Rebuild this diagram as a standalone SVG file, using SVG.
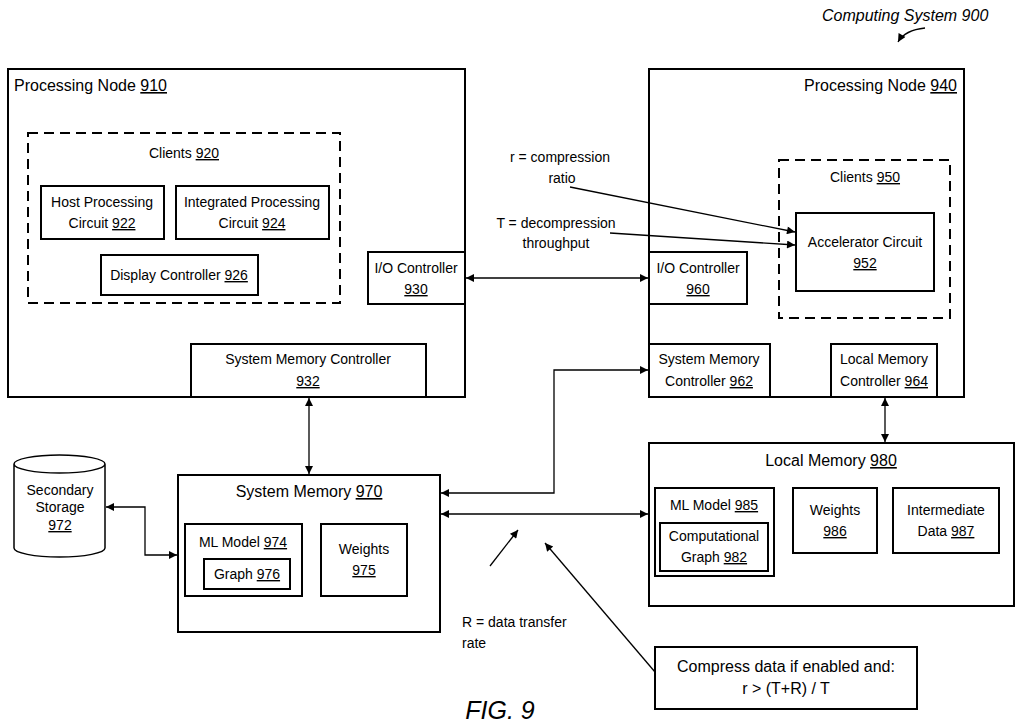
<svg xmlns="http://www.w3.org/2000/svg" width="1024" height="726" viewBox="0 0 1024 726">
<style>
rect{fill:#fff;stroke:#000;stroke-width:2}
.d{stroke-dasharray:10,6}
text{font-family:"Liberation Sans",Arial,sans-serif;font-size:14px;fill:#000}
.c{text-anchor:middle}
.t{font-size:16px}
.f{font-size:25px;font-style:italic}
.u{text-decoration:underline}
.cn line,.cn polyline,.cn path{fill:none;stroke:#000;stroke-width:1.3}
</style>
<defs>
<marker id="a" viewBox="0 0 10 10" refX="10" refY="5" markerWidth="10" markerHeight="8" orient="auto-start-reverse" markerUnits="userSpaceOnUse"><path d="M0,0L10,5L0,10z" fill="#000"/></marker>
</defs>
<rect width="1024" height="726" style="stroke:none"/>
<text x="822" y="21" class="t" font-style="italic">Computing System 900</text>
<g id="pn910"><rect x="8" y="69" width="457" height="328"/><text x="14" y="91" class="t">Processing Node <tspan class="u">910</tspan></text></g>
<g id="c920"><rect x="28" y="133" width="312" height="170" class="d"/><text x="184" y="158" class="c">Clients <tspan class="u">920</tspan></text></g>
<g id="n922"><rect x="41" y="186" width="123" height="53"/><text x="102" y="207" class="c">Host Processing</text><text x="102" y="228" class="c">Circuit <tspan class="u">922</tspan></text></g>
<g id="n924"><rect x="176" y="186" width="153" height="53"/><text x="252" y="207" class="c">Integrated Processing</text><text x="252" y="228" class="c">Circuit <tspan class="u">924</tspan></text></g>
<g id="n926"><rect x="101" y="255" width="157" height="40"/><text x="179" y="280" class="c">Display Controller <tspan class="u">926</tspan></text></g>
<g id="n930"><rect x="368" y="252" width="97" height="52"/><text x="416" y="273" class="c">I/O Controller</text><text x="416" y="294" class="c u">930</text></g>
<g id="n932"><rect x="191" y="344" width="235" height="53"/><text x="308" y="364" class="c">System Memory Controller</text><text x="308" y="386" class="c u">932</text></g>
<g id="pn940"><rect x="649" y="69" width="315" height="328"/><text x="957" y="91" class="t" text-anchor="end">Processing Node <tspan class="u">940</tspan></text></g>
<g id="c950"><rect x="779" y="160" width="171" height="158" class="d"/><text x="865" y="182" class="c">Clients <tspan class="u">950</tspan></text></g>
<g id="n952"><rect x="796" y="213" width="138" height="78"/><text x="865" y="247" class="c">Accelerator Circuit</text><text x="865" y="268" class="c u">952</text></g>
<g id="n960"><rect x="649" y="252" width="98" height="52"/><text x="698" y="273" class="c">I/O Controller</text><text x="698" y="294" class="c u">960</text></g>
<g id="n962"><rect x="649" y="344" width="121" height="53"/><text x="709" y="364" class="c">System Memory</text><text x="709" y="386" class="c">Controller <tspan class="u">962</tspan></text></g>
<g id="n964"><rect x="831" y="344" width="106" height="53"/><text x="884" y="364" class="c">Local Memory</text><text x="884" y="386" class="c">Controller <tspan class="u">964</tspan></text></g>
<g id="n980"><rect x="649" y="443" width="365" height="163"/><text x="831" y="466" class="c t">Local Memory <tspan class="u">980</tspan></text></g>
<g id="n985"><rect x="655" y="488" width="119" height="88"/><text x="714" y="510" class="c">ML Model <tspan class="u">985</tspan></text></g>
<g id="n982"><rect x="660" y="523" width="108" height="48"/><text x="714" y="541" class="c">Computational</text><text x="714" y="562" class="c">Graph <tspan class="u">982</tspan></text></g>
<g id="n986"><rect x="793" y="488" width="84" height="65"/><text x="835" y="515" class="c">Weights</text><text x="835" y="536" class="c u">986</text></g>
<g id="n987"><rect x="893" y="488" width="106" height="65"/><text x="946" y="515" class="c">Intermediate</text><text x="946" y="536" class="c">Data <tspan class="u">987</tspan></text></g>
<g id="n970"><rect x="178" y="475" width="262" height="157"/><text x="309" y="497" class="c t">System Memory <tspan class="u">970</tspan></text></g>
<g id="n974"><rect x="185" y="524" width="117" height="72"/><text x="243" y="547" class="c">ML Model <tspan class="u">974</tspan></text></g>
<g id="n976"><rect x="204" y="559" width="86" height="30"/><text x="247" y="579" class="c">Graph <tspan class="u">976</tspan></text></g>
<g id="n975"><rect x="321" y="524" width="86" height="72"/><text x="364" y="554" class="c">Weights</text><text x="364" y="575" class="c u">975</text></g>
<g id="n972"><path d="M14,464 V548 A45.5,9 0 0 0 105,548 V464 A45.5,9 0 0 0 14,464 A45.5,9 0 0 0 105,464" fill="#fff" stroke="#000" stroke-width="1.5"/><text x="60" y="495" class="c">Secondary</text><text x="60" y="512" class="c">Storage</text><text x="60" y="530" class="c u">972</text></g>
<g id="cmp"><rect x="655" y="647" width="262" height="62"/><text x="786" y="672" class="c t">Compress data if enabled and:</text><text x="786" y="694" class="c t">r &gt; (T+R) / T</text></g>
<text x="500" y="719" class="c f">FIG. 9</text>
<text x="560" y="162" class="c">r = compression</text><text x="562" y="183" class="c">ratio</text>
<text x="556" y="228" class="c">T = decompression</text><text x="556" y="248" class="c">throughput</text>
<text x="462" y="627">R = data transfer</text><text x="462" y="648">rate</text>
<g class="cn">
<path d="M925,28 Q905,30 898,42" marker-end="url(#a)"/>
<line x1="466" y1="278" x2="648" y2="278" marker-start="url(#a)" marker-end="url(#a)"/>
<line x1="309" y1="398" x2="309" y2="474" marker-start="url(#a)" marker-end="url(#a)"/>
<line x1="885" y1="398" x2="885" y2="442" marker-start="url(#a)" marker-end="url(#a)"/>
<polyline points="441,493 554,493 554,370 648,370" marker-start="url(#a)" marker-end="url(#a)"/>
<line x1="441" y1="514" x2="648" y2="514" marker-start="url(#a)" marker-end="url(#a)"/>
<polyline points="106,507 145,507 145,555 177,555" marker-start="url(#a)" marker-end="url(#a)"/>
<line x1="570" y1="187" x2="795" y2="232" marker-end="url(#a)"/>
<line x1="610" y1="233" x2="795" y2="245" marker-end="url(#a)"/>
<line x1="490" y1="566" x2="518" y2="530" marker-end="url(#a)"/>
<line x1="655" y1="672" x2="545" y2="543" marker-end="url(#a)"/>
</g>
</svg>
